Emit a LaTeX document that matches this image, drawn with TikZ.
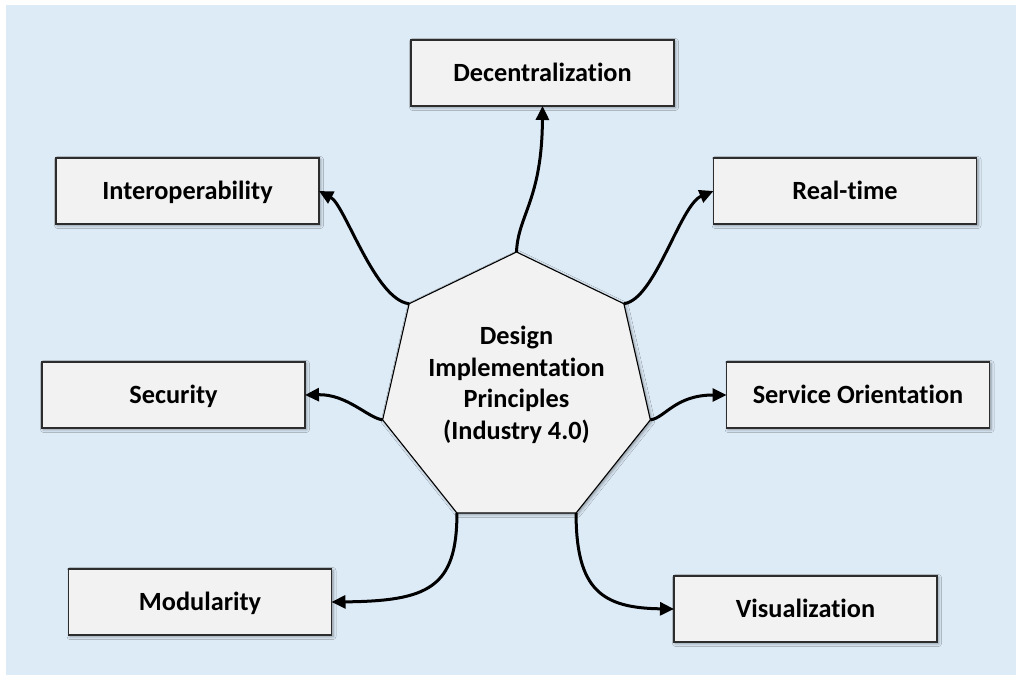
\documentclass[tikz,border=0pt]{standalone}
\usepackage{fontspec}
\setmainfont{Carlito}[Ligatures=NoCommon]
\usetikzlibrary{shapes.geometric,arrows.meta,shadows.blur}
\definecolor{bgblue}{RGB}{221,235,247}
\definecolor{boxfill}{RGB}{242,242,242}
\definecolor{boxline}{RGB}{45,45,45}
\tikzset{
  principle/.style={draw=boxline, line width=1.3pt, fill=boxfill,
    minimum width=263pt, minimum height=66pt, inner sep=0pt, outer sep=0pt,
    text height=16.8pt, text depth=0pt,
    font=\fontsize{26.3}{31}\selectfont\bfseries,
    blur shadow={shadow xshift=1.5pt, shadow yshift=-1.5pt, shadow blur radius=3pt, shadow opacity=40}},
  hubshape/.style={regular polygon, regular polygon sides=7, minimum size=274.6pt,
    inner sep=0pt, outer sep=0pt, draw=black, line width=1.1pt, fill=boxfill,
    blur shadow={shadow xshift=1.5pt, shadow yshift=-1.5pt, shadow blur radius=3pt, shadow opacity=40}},
  hubtext/.style={align=center, inner sep=0pt, font=\fontsize{26.3}{31.5}\selectfont\bfseries},
  linkarrow/.style={draw=black, line width=3pt, -{Triangle[length=14pt,width=13pt]}},
}
\begin{document}
\begin{tikzpicture}[x=1pt,y=-1pt]
  \useasboundingbox (0,0) rectangle (1016,675);
  \fill[bgblue] (6,5) rectangle (1016,675);

  \node[hubshape] (hub) at (516.5,389.3) {};
  \node[hubtext] (hubtxt) at (516.5,385) {Design\\Implementation\\Principles\\(Industry 4.0)};

  \node[principle] (dec)  at (542.5,73)  {Decentralization};
  \node[principle] (inter) at (187.5,191) {Interoperability};
  \node[principle] (real) at (845,191)   {Real-time};
  \node[principle] (sec)  at (173.5,395) {Security};
  \node[principle] (serv) at (858,395)   {Service Orientation};
  \node[principle] (mod)  at (200,602)   {Modularity};
  \node[principle] (vis)  at (805.5,609) {Visualization};

  \draw[linkarrow] (hub.corner 1) .. controls (518,215) and (542,200) .. (dec.south);
  \draw[linkarrow] (hub.corner 2) .. controls (375,300) and (345,205) .. (inter.east);
  \draw[linkarrow] (hub.corner 7) .. controls (655,300) and (680,205) .. (real.west);
  \draw[linkarrow] (hub.corner 3) .. controls (368,418) and (347,394) .. (sec.east);
  \draw[linkarrow] (hub.corner 6) .. controls (665,418) and (675,395) .. (serv.west);
  \draw[linkarrow] (hub.corner 4) .. controls (457,588) and (428,601) .. (mod.east);
  \draw[linkarrow] (hub.corner 5) .. controls (576,590) and (602,608) .. (vis.west);
\end{tikzpicture}
\end{document}
